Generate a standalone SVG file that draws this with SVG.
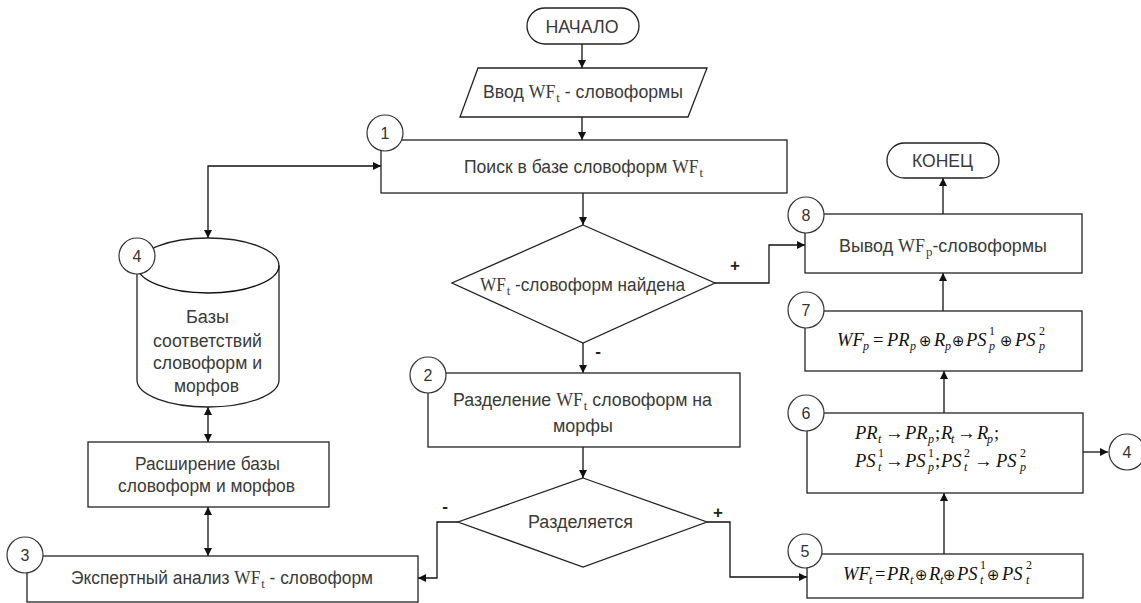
<svg xmlns="http://www.w3.org/2000/svg" width="1141" height="603" viewBox="0 0 1141 603">
<style>
.t{font-family:"Liberation Sans",Arial,sans-serif;font-size:18px;fill:#3a3a3a;text-anchor:middle}
.s{font-family:"Liberation Serif","Times New Roman",serif}
.sb{font-family:"Liberation Serif","Times New Roman",serif;font-size:13px}
.n{font-family:"Liberation Sans",Arial,sans-serif;font-size:16px;fill:#333;text-anchor:middle}
.box{fill:#fff;stroke:#222;stroke-width:1.3}
.cir{fill:#fff;stroke:#333;stroke-width:1.2}
.c{fill:none;stroke:#111;stroke-width:1.3}
.f{font-family:"Liberation Serif","Times New Roman",serif;font-style:italic;font-size:18.5px;fill:#111}
.fs{font-size:12px}
.fu{font-style:normal}
.fo{font-style:normal;font-size:15px;font-family:"DejaVu Sans",sans-serif}
.lab{font-family:"Liberation Sans",Arial,sans-serif;font-size:17px;font-weight:bold;fill:#222;text-anchor:middle}
</style>
<defs>
<marker id="a" viewBox="0 0 10 10" refX="10" refY="5" markerWidth="8" markerHeight="8" markerUnits="userSpaceOnUse" orient="auto-start-reverse">
<path d="M0,0 L10,5 L0,10 z" fill="#111"/>
</marker>
</defs>

<g id="connectors">
<path class="c" d="M582,44 V68" marker-end="url(#a)"/>
<path class="c" d="M582,117 V140" marker-end="url(#a)"/>
<path class="c" d="M583,193 V225" marker-end="url(#a)"/>
<path class="c" d="M715,283 H769 V245 H805" marker-end="url(#a)"/>
<path class="c" d="M583,343 V373" marker-end="url(#a)"/>
<path class="c" d="M583,447 V478" marker-end="url(#a)"/>
<path class="c" d="M707,522 H730 V577 H807" marker-end="url(#a)"/>
<path class="c" d="M458,522 H437 V578 H418" marker-end="url(#a)"/>
<path class="c" d="M944,554 V493" marker-end="url(#a)"/>
<path class="c" d="M944,413 V371" marker-end="url(#a)"/>
<path class="c" d="M943,311 V273" marker-end="url(#a)"/>
<path class="c" d="M943,214 V178" marker-end="url(#a)"/>
<path class="c" d="M1083,452 H1108" marker-end="url(#a)"/>
<path class="c" d="M208,238 V166 H381" marker-start="url(#a)" marker-end="url(#a)"/>
<path class="c" d="M208,407 V442" marker-start="url(#a)" marker-end="url(#a)"/>
<path class="c" d="M208,507 V556" marker-start="url(#a)" marker-end="url(#a)"/>
<text class="lab" x="735" y="271">+</text>
<text class="lab" x="598" y="357">-</text>
<text class="lab" x="445" y="512">-</text>
<text class="lab" x="718" y="518">+</text>
</g>

<g id="start">
<rect class="box" x="527" y="8" width="112" height="36" rx="18"/>
<text class="t" x="582" y="33" textLength="73" lengthAdjust="spacingAndGlyphs">НАЧАЛО</text>
</g>

<g id="input">
<path class="box" d="M478,68 H707 L688,117 H460 Z"/>
<text class="t" x="583" y="98" textLength="200" lengthAdjust="spacingAndGlyphs">Ввод <tspan class="s">WF</tspan><tspan class="sb" dx="1" dy="4">t</tspan><tspan dy="-4"> - словоформы</tspan></text>
</g>

<g id="node1">
<rect class="box" x="381" y="140" width="406" height="53"/>
<text class="t" x="583.5" y="173" textLength="239" lengthAdjust="spacingAndGlyphs">Поиск в базе словоформ <tspan class="s">WF</tspan><tspan class="sb" dx="1" dy="4">t</tspan></text>
<circle class="cir" cx="385" cy="133" r="18"/>
<text class="n" x="385" y="139">1</text>
</g>

<g id="decision1">
<path class="box" d="M583,225 L715,283 L583,343 L452,283 Z"/>
<text class="t" x="582.5" y="291" textLength="205" lengthAdjust="spacingAndGlyphs"><tspan class="s">WF</tspan><tspan class="sb" dx="1" dy="4">t</tspan><tspan dy="-4"> -словоформ найдена</tspan></text>
</g>

<g id="node2">
<rect class="box" x="428" y="373" width="312" height="74"/>
<text class="t" x="582.5" y="406" textLength="259" lengthAdjust="spacingAndGlyphs">Разделение <tspan class="s">WF</tspan><tspan class="sb" dx="1" dy="4">t</tspan><tspan dy="-4"> словоформ  на</tspan></text>
<text class="t" x="583" y="432" textLength="60" lengthAdjust="spacingAndGlyphs">морфы</text>
<circle class="cir" cx="428" cy="375" r="18"/>
<text class="n" x="428" y="381">2</text>
</g>

<g id="decision2">
<path class="box" d="M583,478 L707,522 L583,567 L458,522 Z"/>
<text class="t" x="580.5" y="528" textLength="105" lengthAdjust="spacingAndGlyphs">Разделяется</text>
</g>

<g id="node3">
<rect class="box" x="27" y="556" width="391" height="46"/>
<text class="t" x="222" y="584" textLength="302" lengthAdjust="spacingAndGlyphs">Экспертный анализ <tspan class="s">WF</tspan><tspan class="sb" dx="1" dy="4">t</tspan><tspan dy="-4"> - словоформ</tspan></text>
<circle class="cir" cx="25" cy="555" r="18"/>
<text class="n" x="25" y="561">3</text>
</g>

<g id="database">
<path class="box" d="M137,265.5 A71,27.5 0 0 1 279,265.5 V380 A71,27 0 0 1 137,380 Z"/>
<path class="c" d="M137,265.5 A71,27.5 0 0 0 279,265.5"/>
<text class="t" x="207.5" y="323" textLength="43" lengthAdjust="spacingAndGlyphs">Базы</text>
<text class="t" x="207.5" y="347" textLength="109" lengthAdjust="spacingAndGlyphs">соответствий</text>
<text class="t" x="207.5" y="369" textLength="109" lengthAdjust="spacingAndGlyphs">словоформ и</text>
<text class="t" x="206.5" y="392" textLength="65" lengthAdjust="spacingAndGlyphs">морфов</text>
<circle class="cir" cx="137" cy="256" r="18"/>
<text class="n" x="137" y="262">4</text>
</g>

<g id="expand">
<rect class="box" x="88" y="442" width="241" height="65"/>
<text class="t" x="207.5" y="470" textLength="145" lengthAdjust="spacingAndGlyphs">Расширение базы</text>
<text class="t" x="206.5" y="492" textLength="177" lengthAdjust="spacingAndGlyphs">словоформ и морфов</text>
</g>

<g id="node5">
<rect class="box" x="807" y="554" width="276" height="44"/>
<text class="f"><tspan x="843" y="580">WF</tspan><tspan class="fs" x="869" y="584">t</tspan><tspan class="fu" x="875" y="580">=</tspan><tspan x="887" y="580">PR</tspan><tspan class="fs" x="910" y="584">t</tspan><tspan class="fo" x="915" y="580">⊕</tspan><tspan x="929" y="580">R</tspan><tspan class="fs" x="940" y="584">t</tspan><tspan class="fo" x="943" y="580">⊕</tspan><tspan x="957" y="580">PS</tspan><tspan class="fs fu" x="980" y="569">1</tspan><tspan class="fs" x="980" y="584">t</tspan><tspan class="fo" x="987" y="580">⊕</tspan><tspan x="1002" y="580">PS</tspan><tspan class="fs fu" x="1026" y="569">2</tspan><tspan class="fs" x="1026" y="584">t</tspan></text>
<circle class="cir" cx="805" cy="551" r="17"/>
<text class="n" x="805" y="557">5</text>
</g>

<g id="node6">
<rect class="box" x="807" y="413" width="276" height="80"/>
<text class="f"><tspan x="855" y="439">PR</tspan><tspan class="fs" x="878" y="443">t</tspan><tspan class="fu" x="885" y="439">→</tspan><tspan x="905" y="439">PR</tspan><tspan class="fs" x="928" y="443">p</tspan><tspan class="fu" x="935" y="439">;</tspan><tspan x="941" y="439">R</tspan><tspan class="fs" x="951" y="443">t</tspan><tspan class="fu" x="957" y="439">→</tspan><tspan x="977" y="439">R</tspan><tspan class="fs" x="987" y="443">p</tspan><tspan class="fu" x="994" y="439">;</tspan></text>
<text class="f"><tspan x="855" y="467">PS</tspan><tspan class="fs fu" x="878" y="457">1</tspan><tspan class="fs" x="878" y="471">t</tspan><tspan class="fu" x="885" y="467">→</tspan><tspan x="905" y="467">PS</tspan><tspan class="fs fu" x="928" y="457">1</tspan><tspan class="fs" x="928" y="471">p</tspan><tspan class="fu" x="935" y="467">;</tspan><tspan x="941" y="467">PS</tspan><tspan class="fs fu" x="964" y="457">2</tspan><tspan class="fs" x="964" y="471">t</tspan><tspan class="fu" x="974" y="467">→</tspan><tspan x="996" y="467">PS</tspan><tspan class="fs fu" x="1020" y="457">2</tspan><tspan class="fs" x="1020" y="471">p</tspan></text>
<circle class="cir" cx="806" cy="413" r="18"/>
<text class="n" x="806" y="419">6</text>
</g>

<g id="connector4">
<circle class="cir" cx="1127" cy="452" r="18"/>
<text class="n" x="1127" y="458">4</text>
</g>

<g id="node7">
<rect class="box" x="805" y="311" width="277" height="60"/>
<text class="f"><tspan x="837" y="346">WF</tspan><tspan class="fs" x="863" y="350">p</tspan><tspan class="fu" x="873" y="346">=</tspan><tspan x="887" y="346">PR</tspan><tspan class="fs" x="910" y="350">p</tspan><tspan class="fo" x="919" y="346">⊕</tspan><tspan x="934" y="346">R</tspan><tspan class="fs" x="945" y="350">p</tspan><tspan class="fo" x="952" y="346">⊕</tspan><tspan x="966" y="346">PS</tspan><tspan class="fs fu" x="989" y="335">1</tspan><tspan class="fs" x="989" y="350">p</tspan><tspan class="fo" x="1000" y="346">⊕</tspan><tspan x="1015" y="346">PS</tspan><tspan class="fs fu" x="1039" y="335">2</tspan><tspan class="fs" x="1039" y="350">p</tspan></text>
<circle class="cir" cx="806" cy="310" r="18"/>
<text class="n" x="806" y="316">7</text>
</g>

<g id="node8">
<rect class="box" x="805" y="214" width="277" height="59"/>
<text class="t" x="943" y="252" textLength="208" lengthAdjust="spacingAndGlyphs">Вывод <tspan class="s">WF</tspan><tspan class="sb" dx="1" dy="4">p</tspan><tspan dy="-4">-словоформы</tspan></text>
<circle class="cir" cx="806" cy="215" r="18"/>
<text class="n" x="806" y="221">8</text>
</g>

<g id="end">
<rect class="box" x="887" y="143" width="112" height="35" rx="17.5"/>
<text class="t" x="942.5" y="167" textLength="61" lengthAdjust="spacingAndGlyphs">КОНЕЦ</text>
</g>
</svg>
